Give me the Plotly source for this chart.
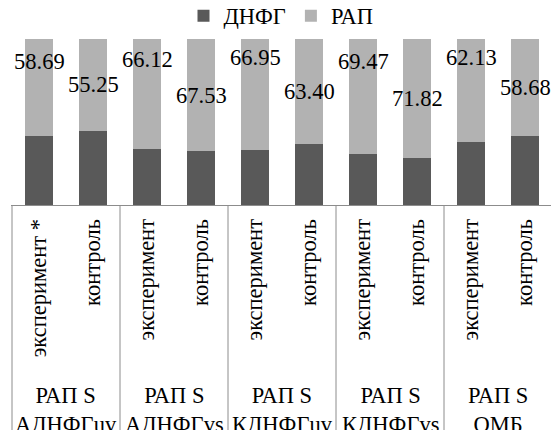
import plotly.graph_objects as go

# Groups and samples along the x axis
groups = ["РАП S<br>АДНФГuv", "РАП S<br>АДНФГvs", "РАП S<br>КДНФГuv",
          "РАП S<br>КДНФГvs", "РАП S<br>ОМБ"]
samples = ["эксперимент *", "контроль",
           "эксперимент", "контроль",
           "эксперимент", "контроль",
           "эксперимент", "контроль",
           "эксперимент", "контроль"]

# Share of РАП in each sample, %; ДНФГ makes up the rest of 100 %
rap = [58.69, 55.25, 66.12, 67.53, 66.95, 63.40, 69.47, 71.82, 62.13, 58.68]
dnfg = [round(100 - v, 2) for v in rap]

# Heights of the value labels above the experiment bars (data units)
exp_label_y = [86.4, 87.6, 88.8, 86.4, 88.8]

FONT = "Liberation Serif"
TXT = dict(family=FONT, size=22.5, color="black")
DARK = "#595959"
LIGHT = "#b2b2b2"
LINE = "#8c8c8c"

idx = list(range(len(samples)))

fig = go.Figure()
fig.add_trace(go.Bar(x=idx, y=dnfg, name="ДНФГ", marker_color=DARK,
                     marker_line_width=0, hoverinfo="skip"))
fig.add_trace(go.Bar(x=idx, y=rap, name="РАП", marker_color=LIGHT,
                     marker_line_width=0, hoverinfo="skip"))

annotations = []
# value labels: controls sit mid-segment, experiments are lifted higher
for i, v in enumerate(rap):
    if i % 2 == 0:
        y = exp_label_y[i // 2]
    else:
        y = dnfg[i] + v / 2
    annotations.append(dict(x=i, y=y, xref="x", yref="y", text=f"{v:.2f}",
                            showarrow=False, xanchor="center", yanchor="middle",
                            font=TXT))

plot_h = 430 - 39 - 225
# group captions under the rotated sample names
for g, name in enumerate(groups):
    annotations.append(dict(x=2 * g + 0.5, y=(205 - 410) / plot_h, xref="x",
                            yref="paper", text=name, showarrow=False,
                            xanchor="center", yanchor="middle",
                            font=TXT))

# vertical dividers between groups
shapes = []
for g in range(len(groups) + 1):
    shapes.append(dict(type="line", xref="x", yref="paper",
                       x0=2 * g - 0.5, x1=2 * g - 0.5, y0=0, y1=-230 / plot_h,
                       line=dict(color=LINE, width=1)))

fig.update_layout(
    width=551, height=430,
    margin=dict(l=11, r=0, t=39, b=225),
    barmode="stack", bargap=0.48,
    plot_bgcolor="white", paper_bgcolor="white",
    font=TXT,
    showlegend=True,
    legend=dict(orientation="h", x=0.5, xanchor="center",
                y=1 - 16 / 430, yanchor="middle", yref="container", font=TXT,
                itemwidth=30, tracegroupgap=0, traceorder="normal"),
    annotations=annotations,
    shapes=shapes,
)
fig.update_xaxes(range=[-0.5 - 1 / 54, -0.5 - 1 / 54 + 540 / 54],
                 tickmode="array", tickvals=idx, ticktext=samples,
                 tickangle=-90, showline=True, linecolor=LINE, linewidth=1,
                 ticks="outside", ticklen=4, tickcolor="rgba(0,0,0,0)",
                 showgrid=False, zeroline=False, tickfont=TXT)
fig.update_yaxes(range=[0, 100], visible=False, showgrid=False)

fig.write_html("out.html")
